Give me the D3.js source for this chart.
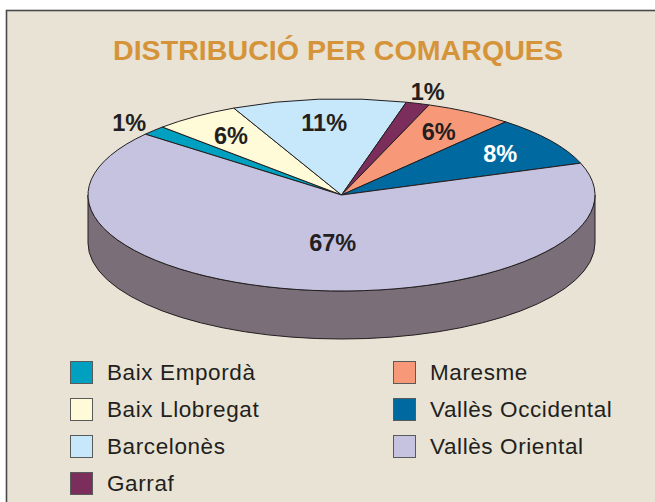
<!DOCTYPE html>
<html>
<head>
<meta charset="utf-8">
<script src="https://cdn.jsdelivr.net/npm/d3@7"></script>
<style>
  body { margin: 0; background: #fff; }
  svg { display: block; }
</style>
</head>
<body>
<div id="wrapper"></div>
<script>
// data
var comarques = ["Baix Empordà", "Baix Llobregat", "Barcelonès", "Garraf", "Maresme", "Vallès Occidental", "Vallès Oriental"];
var shares = [1.6, 5.5, 11.1, 1.5, 5.6, 8.4, 66.3];
var shareLabels = ["1%", "6%", "11%", "1%", "6%", "8%", "67%"];
var sliceColors = ["#00a0c0", "#fffad8", "#c6e8fa", "#7b2d5b", "#f79878", "#006aa0", "#c6c3e0"];

var width = 655, height = 502;
var cx = 341.5, cy = 195, rx = 253.5, ry = 96, depth = 48;
var ink = "#231f20";

var svg = d3.select("#wrapper").append("svg")
    .attr("width", width)
    .attr("height", height);

// frame
svg.append("rect")
    .attr("x", 6.5).attr("y", 10.5)
    .attr("width", width + 10).attr("height", height + 10)
    .attr("fill", "#e8e3d4")
    .attr("stroke", "#4a4a4a")
    .attr("stroke-width", 1.6);

svg.append("text")
    .attr("x", 338).attr("y", 60)
    .attr("text-anchor", "middle")
    .attr("font-family", "Liberation Sans, Arial, sans-serif")
    .attr("font-weight", "bold")
    .attr("font-size", 28)
    .attr("textLength", 450)
    .attr("lengthAdjust", "spacingAndGlyphs")
    .attr("fill", "#d6943a")
    .text("DISTRIBUCIÓ PER COMARQUES");

// pie angles: d3 angle is from 12 o'clock, ellipse param t = angle - 90deg
var startDeg = -50.7;
var pie = d3.pie().sort(null)
    .startAngle(startDeg * Math.PI / 180)
    .endAngle(startDeg * Math.PI / 180 + 2 * Math.PI);
var arcs = pie(shares);

function pt(t, dy) {
    return [cx + rx * Math.cos(t), cy + ry * Math.sin(t) + (dy || 0)];
}

function topPath(d) {
    var t0 = d.startAngle - Math.PI / 2, t1 = d.endAngle - Math.PI / 2;
    var p0 = pt(t0), p1 = pt(t1);
    var large = (t1 - t0) > Math.PI ? 1 : 0;
    return "M" + cx + "," + cy + "L" + p0 + "A" + rx + "," + ry + " 0 " + large + ",1 " + p1 + "Z";
}

function sidePath(d) {
    var t0 = d.startAngle - Math.PI / 2, t1 = d.endAngle - Math.PI / 2;
    var out = "";
    [0, 2 * Math.PI, -2 * Math.PI].forEach(function(off) {
        var a = Math.max(t0, off), b = Math.min(t1, off + Math.PI);
        if (b > a) {
            var pa = pt(a), pb = pt(b), pbd = pt(b, depth), pad = pt(a, depth);
            out += "M" + pa + "A" + rx + "," + ry + " 0 0,1 " + pb + "L" + pbd +
                "A" + rx + "," + ry + " 0 0,0 " + pad + "Z";
        }
    });
    return out;
}

var pieG = svg.append("g");

pieG.selectAll("path.side")
    .data(arcs)
    .enter().append("path")
    .attr("class", "side")
    .attr("d", sidePath)
    .attr("fill", "#7a6e78")
    .attr("stroke", ink)
    .attr("stroke-width", 1);

pieG.selectAll("path.top")
    .data(arcs)
    .enter().append("path")
    .attr("class", "top")
    .attr("d", topPath)
    .attr("fill", function(d, i) { return sliceColors[i]; })
    .attr("stroke", ink)
    .attr("stroke-width", 1)
    .attr("stroke-linejoin", "round");

// percentage labels
pieG.selectAll("text.pct")
    .data(arcs)
    .enter().append("text")
    .attr("class", "pct")
    .attr("transform", function(d) {
        var t = (d.startAngle + d.endAngle) / 2 - Math.PI / 2;
        var f = d.value < 3 ? 1.13 : (d.value > 50 ? 0.5 : 0.76);
        if (d.value > 50) t = 94 * Math.PI / 180;
        return "translate(" + (cx + rx * f * Math.cos(t)) + "," + (cy + ry * f * Math.sin(t)) + ")";
    })
    .attr("dy", "0.36em")
    .attr("text-anchor", "middle")
    .attr("font-family", "Liberation Sans, Arial, sans-serif")
    .attr("font-weight", "bold")
    .attr("font-size", 23.5)
    .attr("fill", function(d, i) { return comarques[i] == "Vallès Occidental" ? "#fff" : ink; })
    .text(function(d, i) { return shareLabels[i]; });

// legend: two columns
var colX = d3.scaleOrdinal().domain([0, 1]).range([70, 393]);
var rowY = d3.scaleLinear().domain([0, 1]).range([361, 398]);

var legend = svg.selectAll("g.legend")
    .data(comarques)
    .enter().append("g")
    .attr("class", "legend")
    .attr("transform", function(d, i) {
        var col = i < 4 ? 0 : 1;
        var row = i < 4 ? i : i - 4;
        return "translate(" + colX(col) + "," + rowY(row) + ")";
    });

legend.append("rect")
    .attr("x", 0.5).attr("y", 0.5)
    .attr("width", 22).attr("height", 22)
    .attr("fill", function(d, i) { return sliceColors[i]; })
    .attr("stroke", "#5a5a5a")
    .attr("stroke-width", 1);

legend.append("text")
    .attr("x", 37).attr("y", 18.5)
    .attr("font-family", "Liberation Sans, Arial, sans-serif")
    .attr("font-size", 22.5)
    .attr("letter-spacing", 0.6)
    .attr("fill", ink)
    .text(function(d) { return d; });
</script>
</body>
</html>
